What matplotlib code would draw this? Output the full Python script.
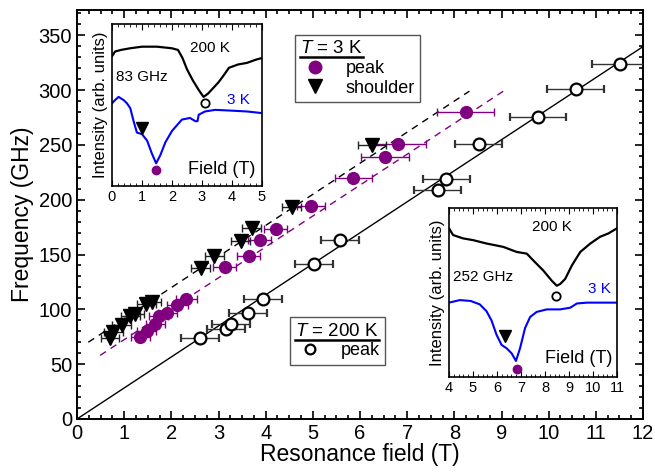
import numpy as np
import matplotlib.pyplot as plt
from matplotlib.lines import Line2D
from matplotlib.ticker import MultipleLocator

plt.rcParams['font.family'] = 'Liberation Sans'
plt.rcParams['mathtext.fontset'] = 'custom'
plt.rcParams['mathtext.rm'] = 'Liberation Sans'
plt.rcParams['mathtext.it'] = 'Liberation Sans:italic'

purple = '#800080'

# T = 3 K, main absorption peak
peak3_field = [1.34, 1.48, 1.66, 1.73, 1.91, 2.13, 2.32, 3.13, 3.64, 3.87, 4.21, 4.96, 5.86, 6.53, 6.80, 8.24]
peak3_freq = [75, 80, 87, 94, 97, 104, 109, 139, 149, 163, 173, 194, 220, 239, 251, 280]
peak3_err = [0.2, 0.2, 0.2, 0.2, 0.2, 0.22, 0.23, 0.25, 0.25, 0.25, 0.25, 0.3, 0.4, 0.5, 0.6, 0.6]

# T = 3 K, shoulder
shoulder_field = [0.70, 0.77, 0.95, 1.13, 1.23, 1.47, 1.59, 2.62, 2.91, 3.47, 3.70, 4.55, 6.26]
shoulder_freq = [74, 79, 86, 94, 96, 105, 107, 138, 149, 162, 174, 193, 250]
shoulder_err = [0.2, 0.2, 0.2, 0.2, 0.2, 0.2, 0.2, 0.2, 0.2, 0.2, 0.2, 0.2, 0.3]

# T = 200 K, peak
peak200_field = [2.60, 3.16, 3.26, 3.63, 3.94, 5.02, 5.57, 7.65, 7.83, 8.52, 9.77, 10.57, 11.51]
peak200_freq = [74, 82, 87, 97, 109, 141, 163, 209, 219, 251, 275, 301, 324]
peak200_err = [0.4, 0.4, 0.4, 0.4, 0.4, 0.4, 0.4, 0.5, 0.5, 0.5, 0.6, 0.6, 0.6]

# linear guides (end points)
line200_x = [0, 12]
line200_y = [0, 339.6]
line_sh_x = [0.24, 8.32]
line_sh_y = [70, 299]
line_pk_x = [0.49, 9.04]
line_pk_y = [58, 299]

# inset spectra, 83 GHz
s83_hot_x = [0, 0.1, 0.3, 0.6, 1.0, 1.5, 2.0, 2.2, 2.35, 2.5, 2.7, 2.9, 3.05, 3.2, 3.4, 3.55, 3.75, 3.9, 4.2, 4.5, 4.8, 5.0]
s83_hot_y = [0.80, 0.83, 0.84, 0.85, 0.86, 0.86, 0.85, 0.84, 0.79, 0.72, 0.65, 0.59, 0.55, 0.57, 0.61, 0.64, 0.69, 0.73, 0.75, 0.76, 0.78, 0.79]
s83_cold_x = [0, 0.1, 0.22, 0.39, 0.5, 0.61, 0.72, 0.83, 1.0, 1.17, 1.33, 1.47, 1.61, 1.78, 2.0, 2.33, 2.6, 2.78, 2.85, 2.89, 3.1, 3.44, 4.0, 4.5, 5.0]
s83_cold_y = [0.51, 0.53, 0.55, 0.53, 0.51, 0.48, 0.40, 0.33, 0.32, 0.28, 0.20, 0.14, 0.19, 0.27, 0.34, 0.41, 0.42, 0.40, 0.40, 0.44, 0.46, 0.47, 0.465, 0.46, 0.45]

# inset spectra, 252 GHz
s252_hot_x = [4.0, 4.17, 4.59, 5.0, 5.56, 6.26, 6.82, 7.24, 7.58, 7.93, 8.28, 8.49, 8.63, 8.84, 9.12, 9.47, 9.89, 10.3, 10.65, 11.0]
s252_hot_y = [0.88, 0.84, 0.82, 0.81, 0.79, 0.77, 0.74, 0.73, 0.68, 0.63, 0.57, 0.54, 0.55, 0.58, 0.66, 0.74, 0.79, 0.83, 0.85, 0.88]
s252_cold_x = [4.0, 4.45, 4.9, 5.28, 5.56, 5.77, 5.98, 6.19, 6.4, 6.61, 6.79, 6.96, 7.17, 7.38, 7.65, 8.07, 8.63, 9.05, 9.33, 9.75, 11.0]
s252_cold_y = [0.44, 0.455, 0.45, 0.43, 0.39, 0.335, 0.25, 0.19, 0.17, 0.14, 0.095, 0.17, 0.29, 0.355, 0.385, 0.40, 0.40, 0.41, 0.435, 0.44, 0.44]


fig = plt.figure(figsize=(6.55, 4.72), dpi=100)
ax = fig.add_axes([77 / 655, 1 - 419 / 472, 566 / 655, 409 / 472])

ax.plot(line200_x, line200_y, color='k', lw=1)
ax.plot(line_sh_x, line_sh_y, color='k', lw=1, ls=(0, (5, 4)))
ax.plot(line_pk_x, line_pk_y, color=purple, lw=1, ls=(0, (5, 4)))

ax.errorbar(peak200_field, peak200_freq, xerr=peak200_err, fmt='o', ms=8.5,
            mfc='white', mec='k', mew=1.6, ecolor='#333333', elinewidth=1,
            capsize=3, capthick=1, zorder=3)
ax.errorbar(peak3_field, peak3_freq, xerr=peak3_err, fmt='o', ms=8.5,
            color=purple, ecolor=purple, elinewidth=1, capsize=3, capthick=1, zorder=3)
ax.errorbar(shoulder_field, shoulder_freq, xerr=shoulder_err, fmt='v', ms=10,
            color='k', ecolor='#222222', elinewidth=1, capsize=3, capthick=1, zorder=4)

ax.set_xlim(0, 12)
ax.set_ylim(0, 373)
ax.set_xticks(range(0, 13))
ax.set_yticks(range(0, 351, 50))
ax.xaxis.set_minor_locator(MultipleLocator(0.25))
ax.yaxis.set_minor_locator(MultipleLocator(10))
ax.tick_params(which='both', direction='in', top=True, right=True, width=1.2, labelsize=14.5)
ax.tick_params(which='major', length=6)
ax.tick_params(which='minor', length=3)
for sp in ax.spines.values():
    sp.set_linewidth(1.4)
ax.set_xlabel('Resonance field (T)', fontsize=16.5, labelpad=0)
ax.set_ylabel('Frequency (GHz)', fontsize=16.5, labelpad=3)

# legends
h_pk = Line2D([], [], ls='none', marker='o', ms=9, color=purple)
h_sh = Line2D([], [], ls='none', marker='v', ms=10, color='k')
h_200 = Line2D([], [], ls='none', marker='o', ms=7, mfc='white', mec='k', mew=1.6)
leg_kw = dict(loc='upper left', fancybox=False, edgecolor='#555555', framealpha=1,
              fontsize=13, title_fontsize=13.5, alignment='left', handlelength=1.6,
              handletextpad=0.9, borderpad=0.3, labelspacing=0.15, borderaxespad=0)
leg1 = ax.legend([h_pk, h_sh], ['peak', 'shoulder'], title='$T$ = 3 K',
                 bbox_to_anchor=(0.385, 0.939), **leg_kw)
leg1.get_frame().set_linewidth(1)
ax.add_artist(leg1)
leg2 = ax.legend([h_200], ['peak'], title='$T$ = 200 K',
                 bbox_to_anchor=(0.376, 0.249), **leg_kw)
leg2.get_frame().set_linewidth(1)


def inset(rect, xlim, xticks, field_pos):
    a = fig.add_axes(rect)
    a.set_facecolor('white')
    a.set_xlim(*xlim)
    a.set_ylim(0, 1)
    a.set_xticks(xticks)
    a.set_yticks([])
    a.xaxis.set_minor_locator(MultipleLocator(0.2))
    a.tick_params(which='both', direction='in', top=True, labelsize=10.5, pad=3)
    a.tick_params(which='major', length=4)
    a.tick_params(which='minor', length=2)
    for sp in a.spines.values():
        sp.set_linewidth(1.2)
    a.set_ylabel('Intensity (arb. units)', fontsize=12, labelpad=3)
    a.text(field_pos[0], field_pos[1], 'Field (T)', fontsize=13, ha='center', va='center')
    return a


ax1 = inset([112 / 655, 1 - 186 / 472, 150 / 655, 162 / 472], (0, 5), range(0, 6), (3.67, 0.10))
ax1.plot(s83_hot_x, s83_hot_y, color='k', lw=1.6)
ax1.plot(s83_cold_x, s83_cold_y, color='#0000ff', lw=1.5)
ax1.plot([1.0], [0.36], 'v', color='k', ms=8)
ax1.plot([1.47], [0.10], 'o', color=purple, ms=6)
ax1.plot([3.1], [0.51], 'o', mfc='white', mec='k', mew=1.3, ms=6)
ax1.text(3.28, 0.85, '200 K', fontsize=11, ha='center', va='center')
ax1.text(1.0, 0.67, '83 GHz', fontsize=11, ha='center', va='center')
ax1.text(4.22, 0.53, '3 K', fontsize=11, ha='center', va='center', color='#0000ff')

ax2 = inset([449 / 655, 1 - 377 / 472, 168 / 655, 169 / 472], (4, 11), range(4, 12), (9.4, 0.11))
ax2.plot(s252_hot_x, s252_hot_y, color='k', lw=1.6)
ax2.plot(s252_cold_x, s252_cold_y, color='#0000ff', lw=1.5)
ax2.plot([6.33], [0.24], 'v', color='k', ms=8)
ax2.plot([6.82], [0.05], 'o', color=purple, ms=6)
ax2.plot([8.46], [0.48], 'o', mfc='white', mec='k', mew=1.3, ms=6)
ax2.text(8.28, 0.89, '200 K', fontsize=11, ha='center', va='center')
ax2.text(5.42, 0.59, '252 GHz', fontsize=11, ha='center', va='center')
ax2.text(10.26, 0.52, '3 K', fontsize=11, ha='center', va='center', color='#0000ff')

# underline legend titles
fig.canvas.draw()
inv = fig.transFigure.inverted()
for leg in (leg1, leg2):
    bb = leg.get_title().get_window_extent()
    (x0, y0), (x1, _) = inv.transform([(bb.x0, bb.y0), (bb.x1, bb.y0)])
    fig.add_artist(Line2D([x0, x1], [y0, y0], color='k', lw=1.8, transform=fig.transFigure))

fig.savefig('out.png', dpi=100)
